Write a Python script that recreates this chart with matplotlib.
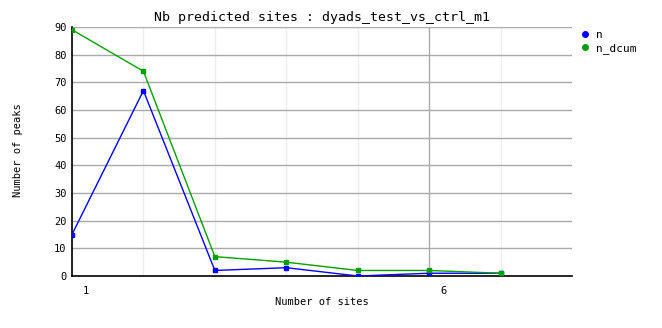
import numpy as np
import matplotlib.pyplot as plt
from matplotlib.lines import Line2D

# datos
nb_sites = [1, 2, 3, 4, 5, 6, 7]
n = [15, 67, 2, 3, 0, 1, 1]
n_dcum = [89, 74, 7, 5, 2, 2, 1]
y_ticks = list(range(0, 100, 10))
x_tick_labels = {1: "1", 6: "6"}

fuente = "DejaVu Sans Mono"
plt.rcParams['font.family'] = fuente

fig = plt.figure(figsize=(6.62, 3.28), dpi=100)
ax = fig.add_axes([72 / 662, 52 / 328, 500 / 662, 249 / 328])

# rejilla
for x in range(1, 8):
    color = '#aaaaaa' if x == 6 else '#eeeeee'
    ax.axvline(x, color=color, lw=1, zorder=0)
for y in y_ticks[1:]:
    ax.axhline(y, color='#aaaaaa', lw=1, zorder=0)

ax.plot(nb_sites, n, color='#0000ff', lw=1, marker='s', ms=2.5, zorder=3)
ax.plot(nb_sites, n_dcum, color='#00a000', lw=1, marker='s', ms=2.5, zorder=4)

ax.set_xlim(1, 8)
ax.set_ylim(0, 90)
ax.set_yticks(y_ticks)
ax.set_xticks([])
ax.tick_params(axis='y', length=0, labelsize=7.5, pad=4)

for x, lab in x_tick_labels.items():
    ax.annotate(lab, (x, 0), xytext=(10, -7), textcoords='offset points',
                ha='center', va='top', fontsize=7.5)

for lado in ['top', 'right']:
    ax.spines[lado].set_visible(False)
ax.spines['left'].set_linewidth(1.2)
ax.spines['bottom'].set_linewidth(1.2)

ax.set_title("Nb predicted sites : dyads_test_vs_ctrl_m1", fontsize=9.5, pad=4)
fig.text(322 / 662, 1 - 302 / 328, "Number of sites", ha='center', va='center', fontsize=7.5)
fig.text(18 / 662, 1 - 150 / 328, "Number of peaks", ha='center', va='center',
         rotation=90, fontsize=7.5)

handles = [Line2D([], [], ls='none', marker='o', ms=4, color='#0000ff'),
           Line2D([], [], ls='none', marker='o', ms=4, color='#00a000')]
fig.legend(handles, ['n', 'n_dcum'], loc='upper left',
           bbox_to_anchor=(575 / 662, 1 - 24 / 328), frameon=False,
           fontsize=8, handlelength=0.8, handletextpad=0.6, labelspacing=0.3,
           borderpad=0)

fig.savefig('out.png', dpi=100)
